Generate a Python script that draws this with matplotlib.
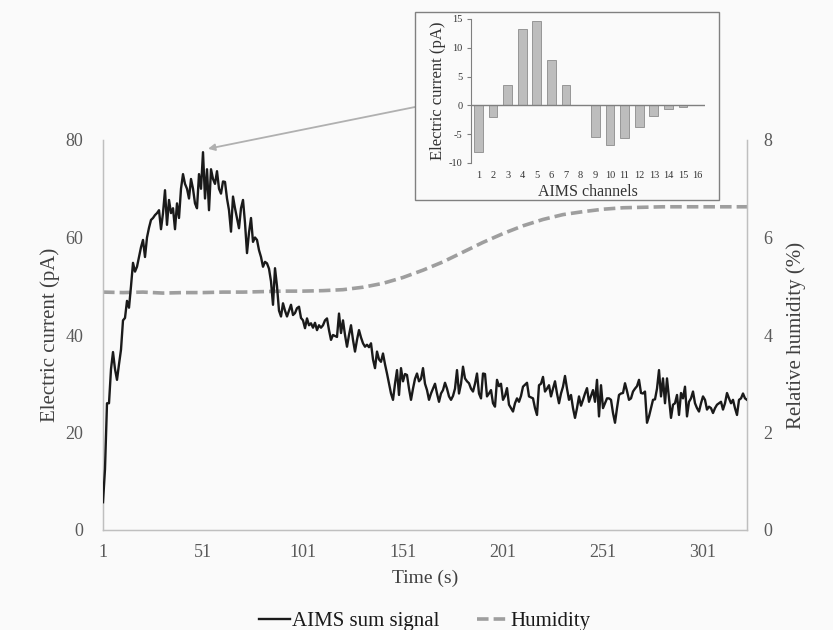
import matplotlib
matplotlib.use("Agg")
import matplotlib.pyplot as plt
from matplotlib.patches import Rectangle
import numpy as np

plt.rcParams['font.family'] = ['Liberation Serif', 'DejaVu Serif']
plt.rcParams['axes.unicode_minus'] = False

# ---- data ----
aims_signal = [
    5.7, 12.5, 26, 26, 33, 36.5, 33, 30.8, 34, 37,
    43, 43.5, 47, 45.6, 50, 54.8, 53, 54, 56, 58,
    59.5, 56, 60, 62, 63.6, 64, 64.6, 65, 65.6, 61.7,
    65, 69.7, 62.6, 67.7, 65, 66, 61.7, 67, 64, 70,
    73, 71, 70, 68, 72, 70, 67, 66, 73, 70,
    77.5, 68, 74, 65.6, 74, 72, 71, 73.6, 70, 69,
    71.5, 71.4, 68, 65.6, 61.2, 68.4, 66, 64, 61.9, 66,
    67.7, 63, 56.8, 61, 64, 59.1, 60, 59.5, 57.4, 56,
    54, 55, 54.7, 53.6, 51, 46.2, 53.7, 50, 45, 43.8,
    46.5, 45, 43.8, 45, 46.2, 44.1, 44.5, 45.5, 45.8, 43.5,
    43, 41.4, 43.4, 42, 42.4, 41.5, 42.5, 41, 42, 41.5,
    42, 43, 43.4, 41, 39, 40, 39.8, 39.6, 44.4, 40.4,
    43, 40, 37.6, 40, 42, 39, 36.6, 39, 41, 39.5,
    38.3, 37.6, 38, 37.5, 38.3, 35, 33.2, 36.6, 35, 34.5,
    36.2, 34, 32.1, 30, 28, 26.7, 30, 32.8, 27.7, 33.2,
    30.5, 32, 31.8, 29, 26.7, 29, 31, 32.1, 30.5, 31,
    33.2, 30, 28.7, 26.7, 28, 29, 30, 28, 26.3, 28,
    28.7, 30.2, 29, 27.4, 26.7, 27.5, 29, 32.8, 28, 30,
    33.5, 31.1, 30.5, 30.1, 29, 28.4, 30, 32.1, 28, 27,
    32.1, 32, 27.4, 28, 28.7, 26, 25.3, 30.8, 29.5, 30,
    26.7, 27.5, 29.1, 25.7, 25, 24.3, 26, 27, 26.3, 27.5,
    29.4, 29.8, 30.2, 27.4, 27.2, 27, 25, 23.6, 29.7, 30,
    31.4, 28.4, 29, 29.7, 27.4, 29, 30.5, 28, 26, 28,
    29.4, 31.6, 29, 26.7, 27.7, 25, 23, 25, 27.4, 25.5,
    26.7, 28, 29.1, 26.3, 27.5, 28.7, 26.3, 30.8, 23.3, 29.7,
    25, 26, 27, 27, 26.7, 24, 22, 25, 27.7, 28,
    28.1, 30.1, 28.5, 26.7, 27, 28.4, 29, 29.5, 30.8, 28.1,
    28, 28.4, 22, 23.3, 25, 26.7, 26.8, 29, 32.8, 27.4,
    31.1, 26, 31.1, 27, 23, 25.7, 26, 27.7, 23.6, 28.1,
    27, 29.4, 23.3, 26.3, 27, 28.4, 26, 25, 24.3, 26,
    27.4, 26.7, 24.7, 25.3, 25, 24, 25, 25.7, 26, 26.3,
    24.7, 26, 28.1, 27, 26, 26.7, 25, 23.6, 26.7, 27,
    28, 27, 26.7,
]
time_s = list(range(1, len(aims_signal) + 1))

humidity_time = [1, 11, 21, 31, 41, 51, 61, 71, 81, 91, 101, 111, 121, 131, 141,
                 151, 161, 171, 181, 191, 201, 211, 221, 231, 241, 251, 261, 271,
                 281, 291, 301, 311, 321, 323]
humidity = [4.88, 4.87, 4.88, 4.86, 4.87, 4.87, 4.88, 4.88, 4.89, 4.90, 4.90, 4.91,
            4.93, 4.98, 5.06, 5.18, 5.33, 5.50, 5.70, 5.90, 6.08, 6.24, 6.37, 6.47,
            6.53, 6.58, 6.61, 6.62, 6.63, 6.63, 6.63, 6.63, 6.63, 6.63]

channels = [str(i) for i in range(1, 17)]
channel_current = [-8.1, -2.1, 3.5, 13.3, 14.7, 7.9, 3.5, 0, -5.5, -6.9,
                   -5.6, -3.7, -1.9, -0.7, -0.3, 0]

x_ticks = [1, 51, 101, 151, 201, 251, 301]

# ---- styling ----
BG = '#fafafa'
SPINE = '#bfbfbf'
TICKC = '#595959'
LABELC = '#404040'

fig = plt.figure(figsize=(8.33, 6.3), dpi=100, facecolor=BG)
W, H = 833, 630

def fr(x0, y0, x1, y1):
    return [x0 / W, 1 - y1 / H, (x1 - x0) / W, (y1 - y0) / H]

ax = fig.add_axes(fr(103, 140, 747, 530))
ax.set_facecolor(BG)
ax.plot(time_s, aims_signal, color='#1a1a1a', lw=1.7, zorder=3,
        label='AIMS sum signal')
ax.set_xlim(1, 323)
ax.set_ylim(0, 80)
ax.set_yticks([0, 20, 40, 60, 80])
ax.set_xticks(x_ticks)
ax.set_xticklabels([str(v) for v in x_ticks])
ax.spines['top'].set_visible(False)
for s in ['left', 'bottom', 'right']:
    ax.spines[s].set_color(SPINE)
    ax.spines[s].set_linewidth(1.0)
ax.tick_params(axis='both', length=0, labelsize=13, labelcolor=TICKC)
ax.tick_params(axis='y', pad=14)
ax.tick_params(axis='x', pad=10)
ax.set_ylabel('Electric current (pA)', fontsize=15, color=LABELC, labelpad=4)
ax.set_xlabel('Time (s)', fontsize=14, color=LABELC, labelpad=6)

ax2 = ax.twinx()
ax2.plot(humidity_time, humidity, color='#9e9e9e', lw=2.6, dashes=(3.2, 1.4),
         zorder=2, label='Humidity')
ax2.set_ylim(0, 8)
ax2.set_yticks([0, 2, 4, 6, 8])
ax2.spines['top'].set_visible(False)
for s in ['left', 'bottom', 'right']:
    ax2.spines[s].set_color(SPINE)
ax2.tick_params(axis='y', length=0, labelsize=13, labelcolor=TICKC, pad=12)
ax2.set_ylabel('Relative humidity (%)', fontsize=15, color=LABELC, labelpad=10)
ax.set_zorder(ax2.get_zorder() + 1)
ax.patch.set_visible(False)
ax2.patch.set_facecolor(BG)

# legend
h1, l1 = ax.get_legend_handles_labels()
h2, l2 = ax2.get_legend_handles_labels()
fig.legend(h1 + h2, l1 + l2, loc='lower center', bbox_to_anchor=(0.51, -0.032),
           ncol=2, frameon=False, fontsize=15, handlelength=1.5,
           handletextpad=0.1, columnspacing=1.8, labelcolor='#1a1a1a')

# inset box
box = Rectangle((415 / W, 1 - 200 / H), 304 / W, 188 / H, transform=fig.transFigure,
                facecolor=BG, edgecolor='#808080', lw=1.0, zorder=5)
fig.patches.append(box)

axi = fig.add_axes(fr(471, 19, 705, 163))
axi.set_zorder(10)
axi.set_facecolor('none')
pos = np.arange(1, 17)
axi.bar(pos, channel_current, width=0.6, color='#bdbdbd', edgecolor='#8c8c8c',
        lw=0.6, zorder=2)
axi.axhline(0, color='#7f7f7f', lw=1.0, zorder=3)
axi.set_xlim(0.5, 16.5)
axi.set_ylim(-10, 15)
axi.set_yticks([-10, -5, 0, 5, 10, 15])
axi.set_xticks(pos)
axi.set_xticklabels(channels)
for s in ['top', 'right', 'bottom']:
    axi.spines[s].set_visible(False)
axi.spines['left'].set_color('#7f7f7f')
axi.tick_params(axis='y', length=3, color='#7f7f7f', labelsize=7.5,
                labelcolor='#333333', pad=3)
axi.tick_params(axis='x', length=0, labelsize=7.5, labelcolor='#333333', pad=6)
axi.set_ylabel('Electric current (pA)', fontsize=12, color='#333333', labelpad=2)
axi.set_xlabel('AIMS channels', fontsize=11.5, color='#333333', labelpad=3)

# arrow from inset to peak
ax.annotate('', xy=(53.5, 78.2), xycoords='data',
            xytext=(415 / W, 1 - 107 / H), textcoords='figure fraction',
            arrowprops=dict(arrowstyle='-|>', color='#b0b0b0', lw=1.3,
                            mutation_scale=10, shrinkA=0, shrinkB=0),
            annotation_clip=False, zorder=6)

fig.savefig('out.png', dpi=100, facecolor=BG)
